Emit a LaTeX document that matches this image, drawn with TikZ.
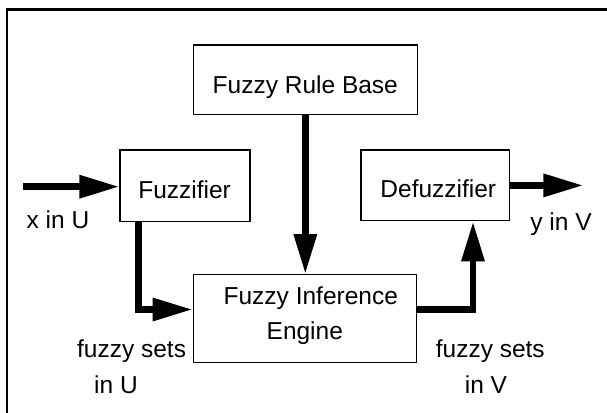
\documentclass[tikz,border=0pt]{standalone}
\usepackage{fontspec}
\setmainfont{Liberation Sans}
\usetikzlibrary{arrows.meta}
\tikzset{
  box/.style={draw=black, line width=1.4pt, rectangle, inner sep=0pt},
  lbl/.style={anchor=base, inner sep=0pt, font=\fontsize{24.5}{35}\selectfont},
  arr/.style={draw=black, line width=6.5pt, line join=miter,
    -{Triangle[length=40pt, width=22pt]}},
  frame/.style={draw=black, line width=2.4pt, line join=miter}
}
\begin{document}
\begin{tikzpicture}[x=1pt, y=-1pt]
\useasboundingbox (0,0) rectangle (607,412);
% outer frame (only left and top edges are visible)
\draw[frame] (7,430) -- (7,9.5) -- (630,9.5);
% boxes
\node[box, minimum width=224pt, minimum height=69.3pt] (rb) at (305.3,79.7) {};
\node[box, minimum width=130pt, minimum height=71.7pt] (fz) at (185,185.9) {};
\node[box, minimum width=148.3pt, minimum height=70.7pt] (dfz) at (435.2,185.4) {};
\node[box, minimum width=223.4pt, minimum height=87.6pt] (eng) at (305,318.5) {};
% box texts
\node[lbl] (trb) at (305.3,93.3) {Fuzzy Rule Base};
\node[lbl] (tfz) at (184.6,198.3) {Fuzzifier};
\node[lbl] (tdfz) at (438.3,197.7) {Defuzzifier};
\node[lbl] (teng1) at (310.8,304.3) {Fuzzy Inference};
\node[lbl] (teng2) at (304.8,339) {Engine};
% free labels
\node[lbl] (xin) at (58,228.3) {x in U};
\node[lbl] (yin) at (561,230.7) {y in V};
\node[lbl] (fsu1) at (131.6,357.3) {fuzzy sets};
\node[lbl] (fsu2) at (116,393.3) {in U};
\node[lbl] (fsv1) at (490.3,357.3) {fuzzy sets};
\node[lbl] (fsv2) at (486,393.3) {in V};
% connector ends
\coordinate (inp) at (23,186.7);
\coordinate (outp) at (583.3,185.4);
% connectors
\draw[arr] (inp) -- (inp -| fz.west);
\draw[arr] ([xshift=-46.5pt]fz.south) |- ([yshift=9pt]eng.west);
\draw[arr] (rb.south) -- (rb.south |- eng.north);
\draw[arr] ([yshift=9pt]eng.east) -| ([xshift=37.8pt]dfz.south);
\draw[arr] (dfz.east) -- (outp);
\end{tikzpicture}
\end{document}
